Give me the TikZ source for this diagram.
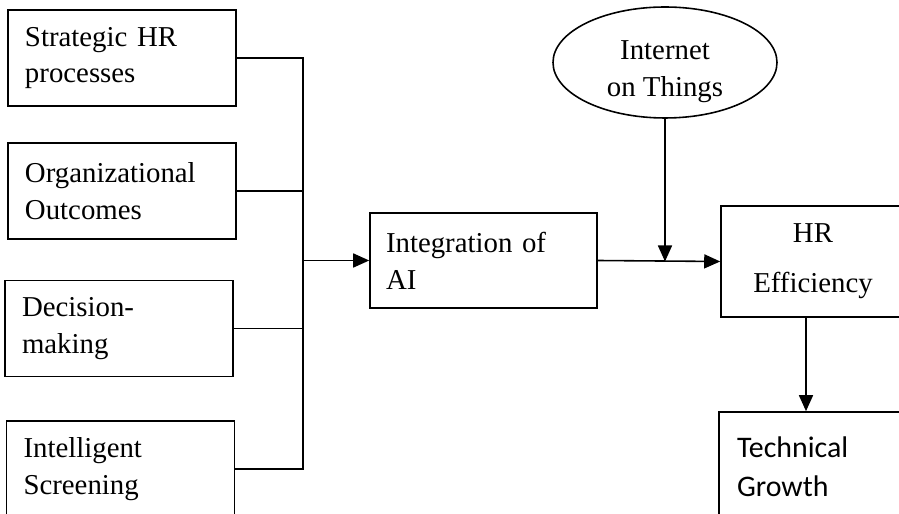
\documentclass[tikz,border=0pt]{standalone}
\usepackage{fontspec}
\setmainfont{Liberation Serif}
\newfontfamily\calibrifont{Carlito}
\usetikzlibrary{arrows.meta, positioning, shapes.geometric}

\begin{document}
\begin{tikzpicture}[
  every node/.style={font=\fontsize{16.4}{21}\selectfont},
  factorbox/.style={rectangle, draw, line width=0.9pt, minimum width=4.56cm, minimum height=1.92cm, text width=3.88cm, inner xsep=0.34cm, inner ysep=0pt, align=left},
  resultbox/.style={rectangle, draw, line width=0.9pt, minimum width=#1, minimum height=2.22cm, inner sep=0pt, align=center},
  flow/.style={-{Triangle[length=0.32cm, width=0.28cm]}, line width=0.9pt},
]
\useasboundingbox (0,0) rectangle (17.98,10.28);
\clip (0,0) rectangle (17.98,10.28);

% Factor boxes on the left, top to bottom
\node[factorbox] (strategic) at (2.44, 9.12) {Strategic HR\\processes};
\node[factorbox] (organizational) at (2.44, 6.46) {Organizational\\Outcomes};
\node[factorbox] (decision) at (2.38, 3.71) {Decision-\\making};
\node[factorbox] (screening) at (2.41, 0.90) {Intelligent\\Screening};

% Collecting line
\coordinate (bus) at (6.06, 5.07);
\draw[line width=0.9pt] (strategic.east) -| (bus);
\draw[line width=0.9pt] (screening.east) -| (bus);
\draw[line width=0.9pt] (organizational.east) -- (organizational.east -| bus);
\draw[line width=0.9pt] (decision.east) -- (decision.east -| bus);

% Middle and right
\node[factorbox, minimum width=4.54cm, minimum height=1.90cm, text width=3.90cm, inner xsep=0.32cm] (integration) at (9.67, 5.07) {Integration of\\AI};
\draw[flow] (bus) -- (integration.west);

\node[ellipse, draw, line width=0.9pt, minimum width=4.48cm, minimum height=2.22cm, inner sep=0pt, text depth=7pt] (iot) at (13.30, 9.03) {\begin{tabular}{@{}c@{}}Internet\\on Things\end{tabular}};

\node[resultbox=3.68cm] (efficiency) at (16.26, 5.05) {HR\\[7.5pt]Efficiency};
\draw[flow] (integration.east) -- (efficiency.west);
\draw[flow] (iot.south) -- (iot.south |- efficiency.west);

\node[rectangle, draw, line width=0.9pt, minimum width=3.72cm, minimum height=2.2cm, text width=3.0cm, inner xsep=0.36cm, inner ysep=0pt, align=left, font=\calibrifont\fontsize{17}{22.2}\selectfont] (growth) at (16.24, 0.94) {Technical\\Growth};
\draw[flow] ([xshift=-0.14cm]efficiency.south) -- ([xshift=-0.14cm]efficiency.south |- growth.north);

\end{tikzpicture}
\end{document}
